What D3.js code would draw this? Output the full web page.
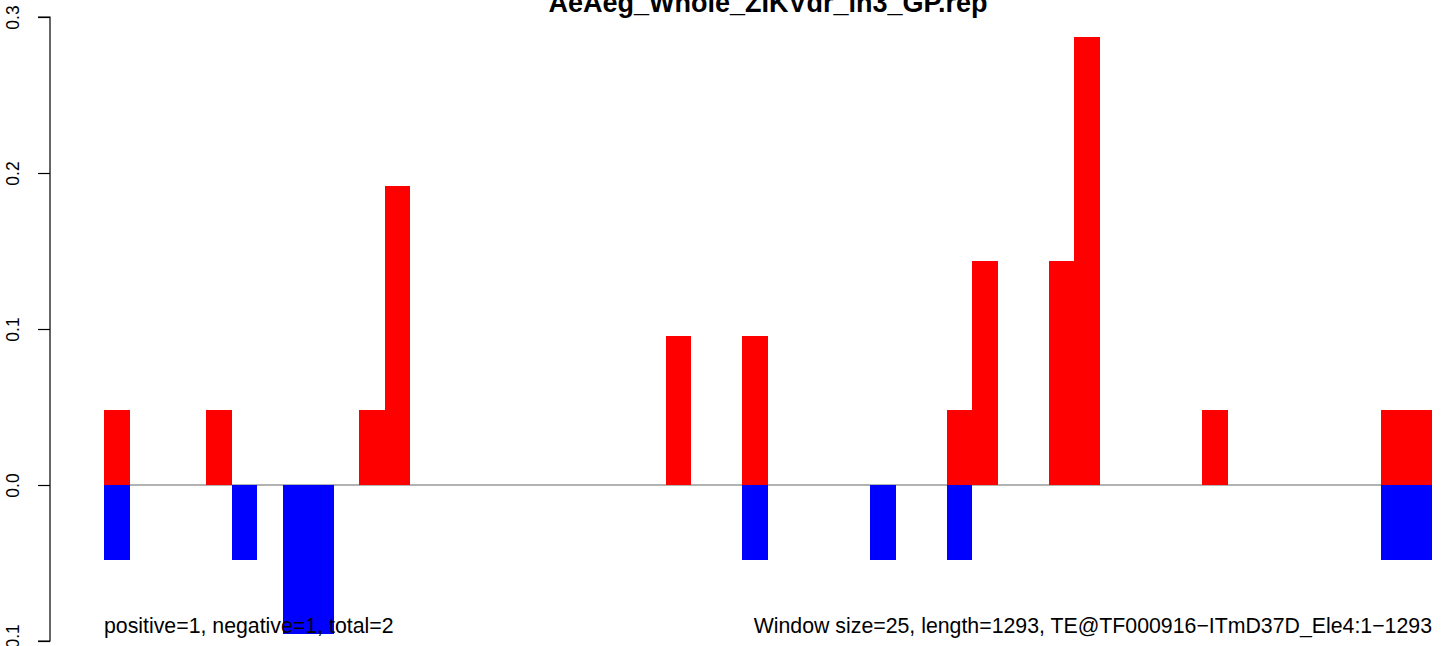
<!DOCTYPE html>
<html>
<head>
<meta charset="utf-8">
<script src="https://cdn.jsdelivr.net/npm/d3@7"></script>
<style>
  html, body { margin: 0; padding: 0; background: #fff; }
  svg { display: block; font-family: "Liberation Sans", Arial, Helvetica, sans-serif; }
</style>
</head>
<body>
<script>
// ---- data ----
const title = "AeAeg_Whole_ZIKVdr_in3_GP.rep";
const windowSize = 25;
const seqLength = 1293;
// window index of each bar (window start = index * windowSize)
const positiveWindows = [0, 4, 10, 11, 22, 25, 33, 34, 37, 38, 43, 50, 51];
const positiveValues  = [0.0479, 0.0479, 0.0479, 0.1916, 0.0958, 0.0958, 0.0479, 0.1437, 0.1437, 0.2874, 0.0479, 0.0479, 0.0479];
const negativeWindows = [0, 5, 7, 8, 25, 30, 33, 50, 51];
const negativeValues  = [-0.0479, -0.0479, -0.0958, -0.0958, -0.0479, -0.0479, -0.0479, -0.0479, -0.0479];
const yTicks = [-0.1, 0.0, 0.1, 0.2, 0.3];
const leftNote = "positive=1, negative=1, total=2";
const rightNote = "Window size=25, length=1293, TE@TF000916\u2212ITmD37D_Ele4:1\u22121293";

// ---- layout ----
const W = 1444, H = 646;
const svg = d3.select("body").append("svg").attr("width", W).attr("height", H);

const x = d3.scaleLinear().domain([0, 52 * windowSize]).range([104, 1432]);
const y = d3.scaleLinear().domain([-0.1, 0.3]).range([641, 17]);

// zero line
svg.append("line")
  .attr("x1", x(0)).attr("x2", x(52 * windowSize))
  .attr("y1", y(0)).attr("y2", y(0))
  .attr("stroke", "#999").attr("stroke-width", 1.5);

// positive bars
svg.append("g").selectAll("rect")
  .data(positiveWindows.map((w, i) => ({w, v: positiveValues[i]})))
  .join("rect")
  .attr("x", d => x(d.w * windowSize))
  .attr("width", d => x((d.w + 1) * windowSize) - x(d.w * windowSize))
  .attr("y", d => y(d.v))
  .attr("height", d => y(0) - y(d.v))
  .attr("fill", "#ff0000")
  .attr("shape-rendering", "crispEdges");

// negative bars
svg.append("g").selectAll("rect")
  .data(negativeWindows.map((w, i) => ({w, v: negativeValues[i]})))
  .join("rect")
  .attr("x", d => x(d.w * windowSize))
  .attr("width", d => x((d.w + 1) * windowSize) - x(d.w * windowSize))
  .attr("y", y(0))
  .attr("height", d => y(d.v) - y(0))
  .attr("fill", "#0000ff")
  .attr("shape-rendering", "crispEdges");

// y axis
const axis = d3.axisLeft(y).tickValues(yTicks).tickSize(12).tickPadding(0)
  .tickFormat(d3.format(".1f"));
const gAxis = svg.append("g").attr("transform", "translate(50,0)").call(axis);
gAxis.select(".domain").attr("d", `M-12,${y(0.3)}H0V${y(-0.1)}H-12`).attr("stroke", "#000").attr("stroke-width", 1.2).attr("fill", "none");
gAxis.selectAll(".tick line").attr("stroke", "#000").attr("stroke-width", 1.2);
gAxis.selectAll(".tick text")
  .attr("x", null).attr("dy", null)
  .attr("transform", "translate(-31,0) rotate(-90)")
  .attr("text-anchor", "middle")
  .attr("font-size", 17.5)
  .attr("font-family", "Liberation Sans, Arial, sans-serif")
  .attr("fill", "#000")
  .text(d => d3.format(".1f")(d).replace("-", "\u2212"));

// title
svg.append("text")
  .attr("x", (x(0) + x(52 * windowSize)) / 2)
  .attr("y", 12)
  .attr("text-anchor", "middle")
  .attr("font-weight", "bold")
  .attr("font-size", 27)
  .text(title);

// notes
svg.append("text")
  .attr("x", x(0)).attr("y", 633)
  .attr("font-size", 21.3)
  .attr("fill", "#000")
  .text(leftNote);
svg.append("text")
  .attr("x", x(52 * windowSize)).attr("y", 633)
  .attr("text-anchor", "end")
  .attr("font-size", 21.3)
  .attr("fill", "#000")
  .text(rightNote);
</script>
</body>
</html>
